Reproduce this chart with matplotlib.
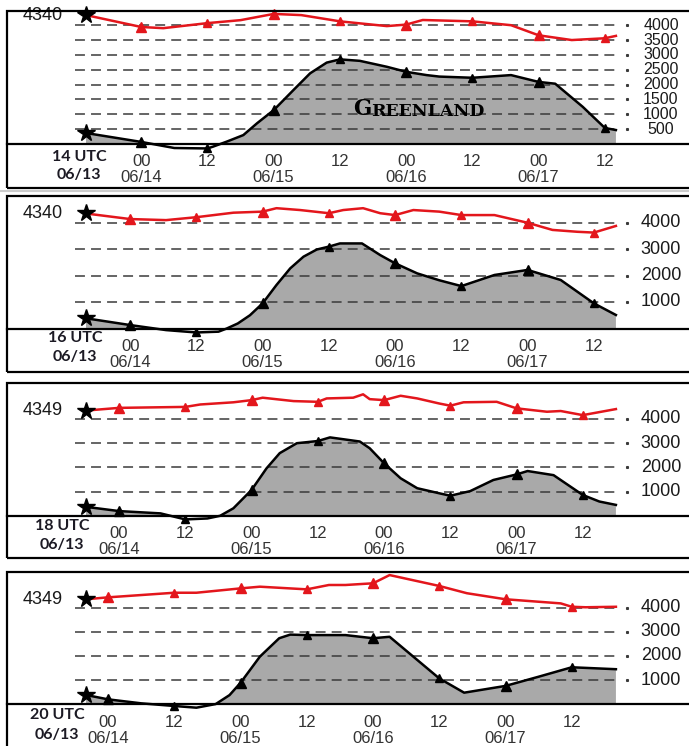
import matplotlib
matplotlib.use('Agg')
import matplotlib.pyplot as plt
from matplotlib.patches import Rectangle
from matplotlib.lines import Line2D
import numpy as np

plt.rcParams['font.family'] = ['Liberation Sans', 'DejaVu Sans']

W, H = 689, 746
RED = '#e3161c'
GRAY = '#a9a9a9'

# --- data (heights in m, time in hours since trajectory start) ---
start_labels = ['14 UTC\n06/13', '16 UTC\n06/13', '18 UTC\n06/13', '20 UTC\n06/13']
station_labels = ['4340', '4340', '4349', '4349']
first_tick = [10, 8, 6, 4]          # hours from start to 00 UTC 06/14
tick_hours = ['00', '12', '00', '12', '00', '12', '00', '12']
tick_dates = ['06/14', '', '06/15', '', '06/16', '', '06/17', '']
grid_levels = [[500, 1000, 1500, 2000, 2500, 3000, 3500, 4000],
               [1000, 2000, 3000, 4000],
               [1000, 2000, 3000, 4000],
               [1000, 2000, 3000, 4000]]

red1_t = [0, 10, 14, 22, 28, 34, 39, 46, 54.5, 58, 61, 70, 77, 82, 88, 94, 96]
red1 = [4340, 3940, 3900, 4070, 4170, 4380, 4340, 4130, 3970, 4020, 4175, 4130, 4000, 3660, 3500, 3560, 3640]
blk1_t = [0, 10, 16, 22, 23, 25.5, 28.5, 31, 34, 37.6, 40.6, 43.6, 46, 49.6, 54.5, 58, 61.7, 64,
          70, 77, 82, 85, 90, 94, 96]
blk1 = [370, 70, -135, -150, -90, 80, 300, 700, 1140, 1820, 2380, 2740, 2850, 2800, 2600, 2430, 2320, 2270,
        2230, 2320, 2090, 2030, 1250, 540, 470]

red2_t = [0, 8, 14.5, 20, 26.7, 32, 34.5, 38.8, 44, 46.6, 50.2, 53.3, 56, 59.3, 64, 68, 74, 80, 84.5, 89, 92, 96]
red2 = [4340, 4130, 4090, 4200, 4370, 4410, 4540, 4470, 4350, 4470, 4540, 4350, 4280, 4470, 4410, 4280, 4280,
        3990, 3720, 3650, 3620, 3870]
blk2_t = [0, 8, 14.5, 20, 24, 25.5, 27.5, 29.7, 32, 34.5, 37, 39.4, 41.8, 44, 46, 50, 53.3, 56, 60, 64, 68,
          74, 80, 86, 92, 96]
blk2 = [385, 130, -60, -150, -120, 0, 190, 500, 950, 1640, 2270, 2710, 2980, 3090, 3210, 3210, 2770, 2460, 2080,
        1820, 1600, 2020, 2210, 1830, 950, 510]

red3_t = [0, 6, 18, 20.7, 26.7, 30, 32, 37.6, 42, 43.6, 48.4, 50.2, 51.4, 54, 57, 60, 64, 66, 68.4, 74.4, 78,
          83.5, 86, 90, 96]
red3 = [4349, 4460, 4500, 4600, 4690, 4780, 4880, 4740, 4710, 4850, 4880, 5020, 4820, 4780, 4960, 4850, 4640,
        4550, 4690, 4710, 4440, 4300, 4330, 4160, 4410]
blk3_t = [0, 6, 13.5, 18, 22, 24.3, 26.7, 30, 32.7, 35.1, 38.2, 42, 44.2, 49.6, 51.4, 54, 57, 60, 64, 66, 69.6,
          73.8, 78, 80, 84.7, 90, 93, 96]
blk3 = [370, 195, 100, -150, -110, 0, 310, 1070, 1960, 2590, 3000, 3090, 3240, 3070, 2790, 2170, 1550, 1140, 930,
        830, 1020, 1480, 1710, 1850, 1680, 860, 590, 450]

red4_t = [0, 4, 16, 20, 28, 31.5, 40, 44, 47, 52, 55, 64, 69, 76, 86, 88, 90.5, 96]
red4 = [4340, 4420, 4610, 4610, 4790, 4860, 4750, 4930, 4930, 5000, 5340, 4890, 4590, 4340, 4170, 4030, 4010, 4030]
blk4_t = [0, 4, 10, 16, 20, 23.5, 26, 28, 31.5, 35, 37, 40, 47, 52, 55, 64, 68.5, 76, 82, 88, 96]
blk4 = [385, 205, 40, -70, -140, 10, 380, 890, 1970, 2730, 2880, 2860, 2860, 2730, 2790, 1070, 480, 760, 1140,
        1530, 1450]

red_series = [(red1_t, red1), (red2_t, red2), (red3_t, red3), (red4_t, red4)]
blk_series = [(blk1_t, blk1), (blk2_t, blk2), (blk3_t, blk3), (blk4_t, blk4)]

# --- layout in pixels: frame top/bottom, baseline, px per metre, UTC label ---
panels = [
    dict(top=11, bottom=188, base=144, ppm=0.0297, lab_x=79, lab_dy=(13, 31), fs=11.5),
    dict(top=196, bottom=372, base=328.5, ppm=0.0265, lab_x=75, lab_dy=(10, 28), fs=13),
    dict(top=383, bottom=558, base=515.8, ppm=0.0242, lab_x=62, lab_dy=(10, 29), fs=13),
    dict(top=572, bottom=790, base=704.3, ppm=0.0242, lab_x=57, lab_dy=(11, 31), fs=13),
]
X0, PXH = 86, 5.52
PT = 0.72  # points per pixel at dpi 100


def px2t(px):
    return (px - X0) / PXH


fig = plt.figure(figsize=(W / 100, H / 100), dpi=100)

# faint separator above panel 2
fig.add_artist(Line2D([0, 1], [1 - 191 / H, 1 - 191 / H], color='#cccccc', lw=1.5))

for i, g in enumerate(panels):
    fig.add_artist(Rectangle((7 / W, 1 - g['bottom'] / H), 2.0, (g['bottom'] - g['top']) / H,
                             transform=fig.transFigure, fill=False, lw=1.6, ec='black'))
    ax = fig.add_axes([7 / W, 1 - g['base'] / H, (W - 7) / W, (g['base'] - g['top']) / H])
    ax.patch.set_alpha(0)
    ax.set_xlim(px2t(7), px2t(W))
    ax.set_ylim(0, (g['base'] - g['top']) / g['ppm'])
    for s in ['top', 'left', 'right']:
        ax.spines[s].set_visible(False)
    ax.spines['bottom'].set_linewidth(1.6)
    ax.set_xticks([])
    ax.set_yticks([])

    # dashed levels + right labels
    for lev in grid_levels[i]:
        ax.plot([px2t(75), px2t(617)], [lev, lev], color='#3a3a3a', lw=1.1,
                dashes=(6.5, 4), zorder=2)
        ax.plot(px2t(627), lev, marker='s', ms=1.2, color='#3a3a3a', zorder=2)
        ax.text(px2t(661), lev, str(lev), ha='center', va='center', fontsize=g['fs'],
                color='#1a1a1a')

    # black (terrain) line with gray fill
    bt, bh = np.array(blk_series[i][0]), np.array(blk_series[i][1])
    ax.fill_between(bt, bh, 0, where=bh > 0, interpolate=True, color=GRAY, lw=0, zorder=1)
    ax.plot(bt, bh, color='black', lw=1.8, zorder=3, clip_on=False, solid_joinstyle='round')

    # red trajectory line
    rt, rh = np.array(red_series[i][0]), np.array(red_series[i][1])
    ax.plot(rt, rh, color=RED, lw=1.8, zorder=3, clip_on=False, solid_joinstyle='round')

    ticks = [first_tick[i] + 12 * k for k in range(len(tick_hours))]
    for k, tk in enumerate(ticks):
        ms = 7.5 if tick_hours[k] == '00' else 5.5
        for tt, hh, col in [(rt, rh, RED), (bt, bh, 'black')]:
            m = np.isclose(tt, tk)
            ax.plot(tt[m], hh[m], ls='none', marker='^', ms=ms, color=col, zorder=5, clip_on=False)
        ax.annotate(tick_hours[k], xy=(tk, 0), xytext=(0, -18 * PT), textcoords='offset points',
                    ha='center', va='center', fontsize=12, color='#333333', annotation_clip=False)
        if tick_dates[k]:
            ax.annotate(tick_dates[k], xy=(tk, 0), xytext=(0, -34 * PT), textcoords='offset points',
                        ha='center', va='center', fontsize=12, color='#333333', annotation_clip=False)

    # start stars
    ax.plot(0, rh[0], marker='*', ms=13, color='black', zorder=6, clip_on=False)
    ax.plot(0, bh[0], marker='*', ms=13, color='black', zorder=6, clip_on=False)
    ax.text(px2t(63), rh[0], station_labels[i], ha='right', va='center', fontsize=13,
            color='#1a1a1a')

    # UTC start label
    l1, l2 = start_labels[i].split('\n')
    for txt, dy in [(l1, g['lab_dy'][0]), (l2, g['lab_dy'][1])]:
        ax.annotate(txt, xy=(px2t(g['lab_x']), 0), xytext=(0, -dy * PT), textcoords='offset points',
                    ha='center', va='center', fontsize=11.5, fontweight='bold', family='Lato',
                    color='#1c1a24', annotation_clip=False)

    if i == 0:
        t1 = ax.text(px2t(353), 980, 'G', fontsize=15.5, fontweight='bold',
                     family='DejaVu Serif', va='baseline', ha='left', zorder=6)
        ax.annotate('REENLAND', xy=(1, 0), xycoords=t1, fontsize=12.5, fontweight='bold',
                    family='DejaVu Serif', va='bottom', ha='left', zorder=6)

plt.savefig('out.png', dpi=100)
plt.close()
